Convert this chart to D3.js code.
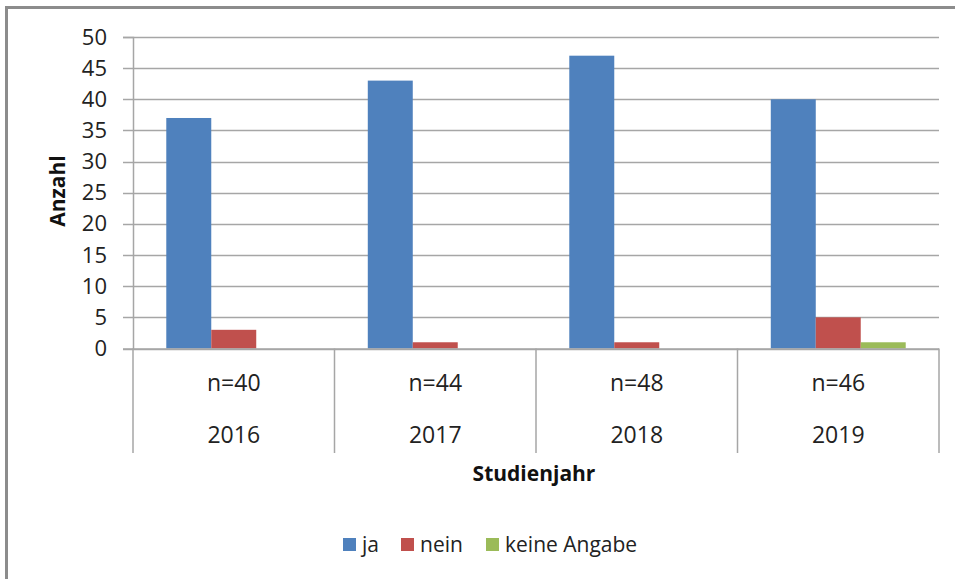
<!DOCTYPE html>
<html>
<head>
  <meta charset="UTF-8">
  <style>
    body { margin: 0; background: white; }
    svg { display: block; font-family: "Open Sans", sans-serif; }
  </style>
</head>
<body>
<svg></svg>
<script src="https://d3js.org/d3.v7.min.js"></script>
<script>

let width = 955, height = 579;

// data
let years = ["2016", "2017", "2018", "2019"];
let nLabels = ["n=40", "n=44", "n=48", "n=46"];
let seriesNames = ["ja", "nein", "keine Angabe"];
let jaValues = [37, 43, 47, 40];
let neinValues = [3, 1, 1, 5];
let keineValues = [0, 0, 0, 1];
let yTicks = [0, 5, 10, 15, 20, 25, 30, 35, 40, 45, 50];
let colors = ["#4F81BD", "#C0504D", "#9BBB59"];

let series = [jaValues, neinValues, keineValues];

let svg = d3.select("svg")
    .attr("width", width)
    .attr("height", height);

// outer chart frame (only top and left visible)
svg.append("path")
    .attr("d", "M6.5,579 V7.5 H955")
    .attr("fill", "none")
    .attr("stroke", "#8c8c8c")
    .attr("stroke-width", 3);

let plotLeft = 133, plotRight = 939, plotTop = 37, plotBottom = 348.5;

let y = d3.scaleLinear().domain([0, 50]).range([plotBottom, plotTop]);
let x0 = d3.scaleBand().domain(years).range([plotLeft, plotRight]);
let x1 = d3.scaleBand().domain(seriesNames).range([0, x0.bandwidth()]).paddingOuter(0.74);

// gridlines
svg.append("g")
    .selectAll("line")
    .data(yTicks)
    .enter()
    .append("line")
    .attr("x1", plotLeft - 10)
    .attr("x2", plotRight)
    .attr("y1", d => Math.round(y(d)) + 0.5)
    .attr("y2", d => Math.round(y(d)) + 0.5)
    .attr("stroke", "#a6a6a6")
    .attr("stroke-width", 1.5);

// y axis
let yAxis = svg.append("g")
    .attr("transform", `translate(${plotLeft},0)`)
    .call(d3.axisLeft(y).tickValues(yTicks).tickSize(10).tickPadding(16));
yAxis.attr("font-family", null).attr("font-size", 22);
yAxis.select(".domain").attr("stroke", "#a6a6a6").attr("stroke-width", 1.5);
yAxis.selectAll(".tick line").attr("stroke", "none");
yAxis.selectAll(".tick text").attr("fill", "#222");

// bars
let groups = svg.append("g")
    .selectAll("g")
    .data(years)
    .enter()
    .append("g")
    .attr("transform", d => `translate(${x0(d)},0)`);

groups.selectAll("rect")
    .data((d, i) => series.map((s, k) => ({ key: seriesNames[k], value: s[i], color: colors[k] })))
    .enter()
    .append("rect")
    .attr("x", d => x1(d.key))
    .attr("width", x1.bandwidth())
    .attr("y", d => y(d.value))
    .attr("height", d => plotBottom - y(d.value))
    .attr("fill", d => d.color);

// category axis with separators
let catBottom = 453;
svg.append("line")
    .attr("x1", plotLeft).attr("x2", plotRight)
    .attr("y1", plotBottom + 0.5).attr("y2", plotBottom + 0.5)
    .attr("stroke", "#a6a6a6").attr("stroke-width", 1.5);

svg.append("g")
    .selectAll("line")
    .data(years.map(d => x0(d)).concat([plotRight]))
    .enter()
    .append("line")
    .attr("x1", d => d).attr("x2", d => d)
    .attr("y1", plotBottom).attr("y2", catBottom)
    .attr("stroke", "#a6a6a6").attr("stroke-width", 1.5);

svg.append("g")
    .selectAll("text")
    .data(years)
    .enter()
    .append("text")
    .attr("x", d => x0(d) + x0.bandwidth() / 2)
    .attr("y", 391)
    .attr("text-anchor", "middle")
    .attr("font-size", 23)
    .attr("fill", "#222")
    .text((d, i) => nLabels[i]);

svg.append("g")
    .selectAll("text")
    .data(years)
    .enter()
    .append("text")
    .attr("x", d => x0(d) + x0.bandwidth() / 2)
    .attr("y", 443)
    .attr("text-anchor", "middle")
    .attr("font-size", 23)
    .attr("fill", "#222")
    .text(d => d);

// axis titles
svg.append("text")
    .attr("transform", "translate(65,191) rotate(-90)")
    .attr("text-anchor", "middle")
    .attr("font-size", 21)
    .attr("font-weight", "bold")
    .attr("fill", "#111")
    .text("Anzahl");

svg.append("text")
    .attr("x", 534)
    .attr("y", 481)
    .attr("text-anchor", "middle")
    .attr("font-size", 21)
    .attr("font-weight", "bold")
    .attr("fill", "#111")
    .text("Studienjahr");

// legend
let legendX = [343, 401, 486];
let legend = svg.append("g")
    .selectAll("g")
    .data(seriesNames)
    .enter()
    .append("g")
    .attr("transform", (d, i) => `translate(${legendX[i]},538)`);

legend.append("rect")
    .attr("width", 13)
    .attr("height", 13)
    .attr("fill", (d, i) => colors[i]);

legend.append("text")
    .attr("x", 19)
    .attr("y", 14)
    .attr("font-size", 21)
    .attr("fill", "#222")
    .text(d => d);

</script>
</body>
</html>
